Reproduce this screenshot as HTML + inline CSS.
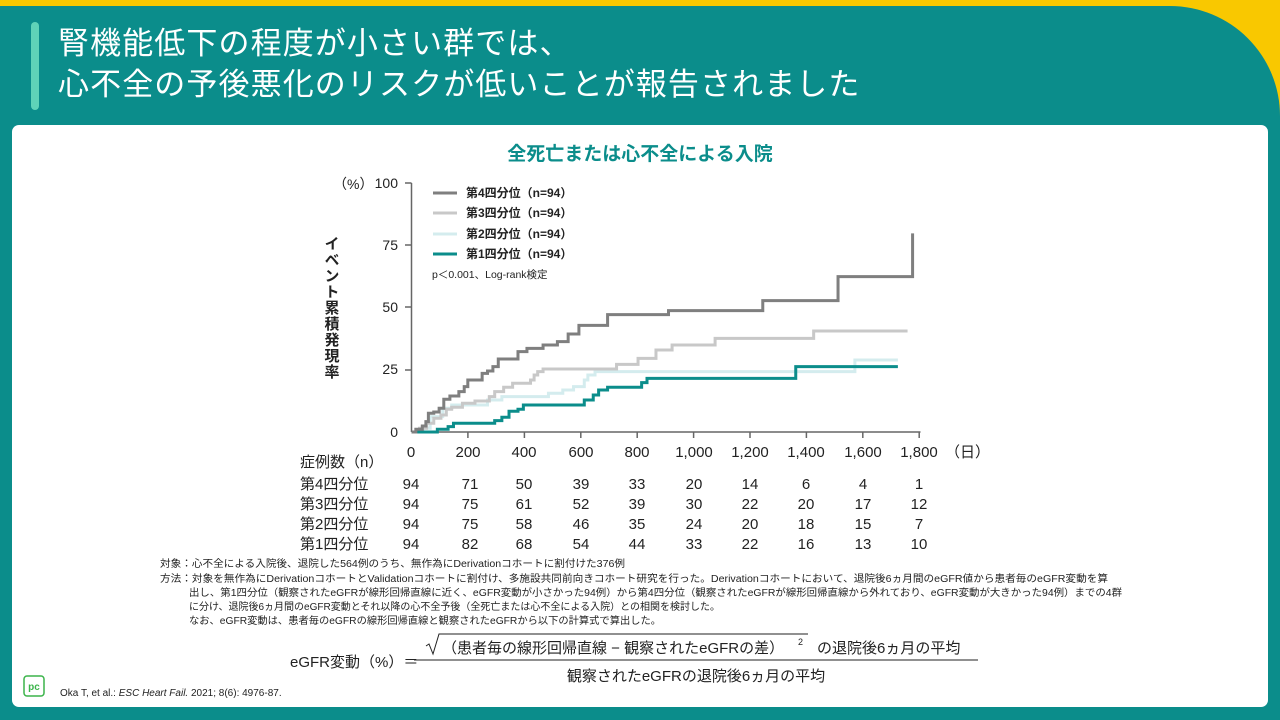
<!DOCTYPE html>
<html><head><meta charset="utf-8"><style>
*{margin:0;padding:0;box-sizing:border-box}
body{width:1280px;height:720px;overflow:hidden;background:#f9c800;font-family:"Liberation Sans","Noto Sans CJK JP",sans-serif;position:relative}
.teal{position:absolute;left:0;top:6px;width:1280px;height:714px;background:#0b8d8b;border-top-right-radius:110px}
.bar{position:absolute;left:31px;top:22px;width:8px;height:88px;background:#5fd3b8;border-radius:4px}
.title{position:absolute;left:58px;top:23px;color:#fff;font-size:31px;line-height:41px;letter-spacing:1.1px}
.card{position:absolute;left:12px;top:125px;width:1256px;height:582px;background:#fff;border-radius:7px}
.a{position:absolute;white-space:nowrap}
</style></head><body>
<div class="teal"></div>
<div class="bar"></div>
<div class="title">腎機能低下の程度が小さい群では、<br>心不全の予後悪化のリスクが低いことが報告されました</div>
<div class="card"></div>
<svg class="a" style="left:0;top:0" width="1280" height="720" font-family="Liberation Sans, Noto Sans CJK JP, sans-serif">
<text x="640" y="160" text-anchor="middle" font-size="19" font-weight="bold" fill="#0b8d8b">全死亡または心不全による入院</text>
<text x="333" y="189" font-size="14" fill="#222">（%）</text>
<g font-size="14" fill="#222" text-anchor="end">
<text x="398" y="188">100</text><text x="398" y="250">75</text><text x="398" y="312">50</text><text x="398" y="374">25</text><text x="398" y="437">0</text>
</g>
<text x="331" y="236" font-size="15" font-weight="bold" fill="#222" style="writing-mode:vertical-rl;letter-spacing:1px">イベント累積発現率</text>
<g stroke="#666" stroke-width="1.5">
<line x1="411.5" y1="183" x2="411.5" y2="432"/><line x1="411.5" y1="432" x2="920.5" y2="432"/>
<line x1="405" y1="183" x2="411.5" y2="183"/><line x1="405" y1="245" x2="411.5" y2="245"/><line x1="405" y1="307" x2="411.5" y2="307"/><line x1="405" y1="370" x2="411.5" y2="370"/>
<line x1="467.9" y1="432" x2="467.9" y2="438"/><line x1="524.4" y1="432" x2="524.4" y2="438"/><line x1="580.8" y1="432" x2="580.8" y2="438"/><line x1="637.2" y1="432" x2="637.2" y2="438"/><line x1="693.6" y1="432" x2="693.6" y2="438"/><line x1="750" y1="432" x2="750" y2="438"/><line x1="806.4" y1="432" x2="806.4" y2="438"/><line x1="862.8" y1="432" x2="862.8" y2="438"/><line x1="919.2" y1="432" x2="919.2" y2="438"/>
</g>
<g font-size="15" fill="#222" text-anchor="middle">
<text x="411" y="457">0</text><text x="468" y="457">200</text><text x="524" y="457">400</text><text x="581" y="457">600</text><text x="637" y="457">800</text><text x="694" y="457">1,000</text><text x="750" y="457">1,200</text><text x="806" y="457">1,400</text><text x="863" y="457">1,600</text><text x="919" y="457">1,800</text>
</g>
<text x="945" y="457" font-size="15" fill="#222">（日）</text>
<g transform="translate(380,170) scale(0.3584,0.3333)" fill="none" stroke-width="3" >
<path vector-effect="non-scaling-stroke" stroke="#d4ecee" d="M88,786 H120 V775 H140 V740 H175 V715 H200 V705 H300 V690 H340 V680 H470 V670 H510 V660 H540 V650 H570 V630 H580 V615 H600 V605 H1325 V570 H1445"/>
<path vector-effect="non-scaling-stroke" stroke="#c8c8c8" d="M88,786 H110 V775 H130 V760 H150 V745 H170 V735 H185 V718 H200 V712 H230 V700 H265 V693 H305 V680 H320 V665 H345 V652 H370 V640 H420 V630 H430 V615 H440 V605 H455 V597 H660 V583 H720 V565 H770 V540 H815 V525 H935 V505 H1210 V483 H1472"/>
<path vector-effect="non-scaling-stroke" stroke="#0b8d8b" d="M88,786 H160 V778 H190 V770 H205 V760 H320 V752 H340 V742 H360 V724 H385 V718 H400 V705 H570 V690 H595 V675 H610 V660 H635 V652 H730 V638 H745 V625 H1160 V590 H1445"/>
<path vector-effect="non-scaling-stroke" stroke="#7f7f7f" d="M88,786 H100 V778 H118 V768 H128 V755 H135 V730 H150 V726 H165 V715 H178 V688 H195 V678 H220 V665 H235 V650 H245 V630 H285 V610 H300 V603 H315 V590 H330 V567 H385 V545 H410 V535 H455 V525 H495 V515 H525 V492 H555 V466 H635 V434 H805 V422 H1068 V392 H1278 V320 H1486 V190"/>
</g>
<g stroke-width="3">
<line x1="433" y1="193" x2="457" y2="193" stroke="#7f7f7f"/>
<line x1="433" y1="213" x2="457" y2="213" stroke="#c8c8c8"/>
<line x1="433" y1="234" x2="457" y2="234" stroke="#d4ecee"/>
<line x1="433" y1="254" x2="457" y2="254" stroke="#0b8d8b"/>
</g>
<g font-size="12" font-weight="bold" fill="#222">
<text x="466" y="197">第4四分位（n=94）</text><text x="466" y="217">第3四分位（n=94）</text><text x="466" y="238">第2四分位（n=94）</text><text x="466" y="258">第1四分位（n=94）</text>
</g>
<text x="432" y="278" font-size="10.5" fill="#222">p＜0.001、Log-rank検定</text>
<g font-size="15" fill="#222">
<text x="300" y="467">症例数（n）</text>
<text x="300" y="489">第4四分位</text><text x="300" y="509">第3四分位</text><text x="300" y="529">第2四分位</text><text x="300" y="549">第1四分位</text>
</g>
<g font-size="15" fill="#222" text-anchor="middle">
<g transform="translate(0,489)"><text x="411">94</text><text x="470">71</text><text x="524">50</text><text x="581">39</text><text x="637">33</text><text x="694">20</text><text x="750">14</text><text x="806">6</text><text x="863">4</text><text x="919">1</text></g>
<g transform="translate(0,509)"><text x="411">94</text><text x="470">75</text><text x="524">61</text><text x="581">52</text><text x="637">39</text><text x="694">30</text><text x="750">22</text><text x="806">20</text><text x="863">17</text><text x="919">12</text></g>
<g transform="translate(0,529)"><text x="411">94</text><text x="470">75</text><text x="524">58</text><text x="581">46</text><text x="637">35</text><text x="694">24</text><text x="750">20</text><text x="806">18</text><text x="863">15</text><text x="919">7</text></g>
<g transform="translate(0,549)"><text x="411">94</text><text x="470">82</text><text x="524">68</text><text x="581">54</text><text x="637">44</text><text x="694">33</text><text x="750">22</text><text x="806">16</text><text x="863">13</text><text x="919">10</text></g>
</g>
<g font-size="10" fill="#222">
<text x="160" y="567" textLength="465" lengthAdjust="spacingAndGlyphs">対象：心不全による入院後、退院した564例のうち、無作為にDerivationコホートに割付けた376例</text>
<text x="160" y="582" textLength="948" lengthAdjust="spacingAndGlyphs">方法：対象を無作為にDerivationコホートとValidationコホートに割付け、多施設共同前向きコホート研究を行った。Derivationコホートにおいて、退院後6ヵ月間のeGFR値から患者毎のeGFR変動を算</text>
<text x="189" y="596" textLength="933" lengthAdjust="spacingAndGlyphs">出し、第1四分位（観察されたeGFRが線形回帰直線に近く、eGFR変動が小さかった94例）から第4四分位（観察されたeGFRが線形回帰直線から外れており、eGFR変動が大きかった94例）までの4群</text>
<text x="189" y="610">に分け、退院後6ヵ月間のeGFR変動とそれ以降の心不全予後（全死亡または心不全による入院）との相関を検討した。</text>
<text x="189" y="624" textLength="472" lengthAdjust="spacingAndGlyphs">なお、eGFR変動は、患者毎のeGFRの線形回帰直線と観察されたeGFRから以下の計算式で算出した。</text>
</g>
<text x="290" y="667" font-size="15" fill="#222">eGFR変動（%）＝</text>
<line x1="414" y1="660" x2="978" y2="660" stroke="#222" stroke-width="1"/>
<path d="M426,646 l3,-2 l4,10 l6,-20 H808" fill="none" stroke="#222" stroke-width="1"/>
<text x="442" y="653" font-size="15" fill="#222">（患者毎の線形回帰直線 − 観察されたeGFRの差）</text>
<text x="798" y="645" font-size="9" fill="#222">2</text>
<text x="817" y="653" font-size="15" fill="#222">の退院後6ヵ月の平均</text>
<text x="696" y="681" font-size="15" fill="#222" text-anchor="middle">観察されたeGFRの退院後6ヵ月の平均</text>
<text x="60" y="696" font-size="10" fill="#222">Oka T, et al.: <tspan font-style="italic">ESC Heart Fail.</tspan> 2021; 8(6): 4976-87.</text>
<rect x="24" y="676" width="20" height="20" rx="3" fill="none" stroke="#3bb44a" stroke-width="1.5"/>
<text x="34" y="690" font-size="10" font-weight="bold" fill="#3bb44a" text-anchor="middle">pc</text>
</svg>
</body></html>
